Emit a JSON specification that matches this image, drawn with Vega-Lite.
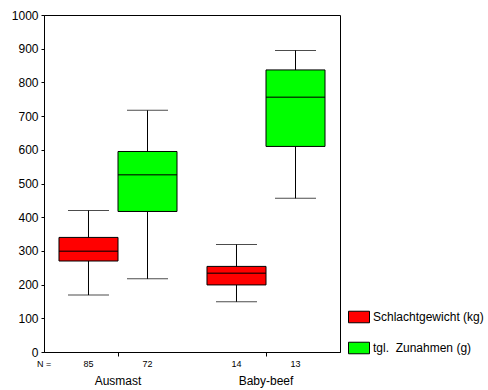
{
  "$schema": "https://vega.github.io/schema/vega-lite/v6.json",
  "autosize": "none",
  "padding": {"left": 44, "top": 15, "right": 148, "bottom": 38},
  "width": 296,
  "height": 337,
  "background": "white",
  "config": {
    "font": "Liberation Sans",
    "view": {"stroke": "black", "strokeWidth": 1},
    "axis": {"domainColor": "black", "tickColor": "black", "labelColor": "black", "grid": false, "labelFont": "Liberation Sans", "labelFontSize": 12}
  },
  "datasets": {
    "boxes": [
      {"group": "Ausmast", "series": "Schlachtgewicht (kg)", "min": 169, "q1": 270, "median": 299, "q3": 340, "max": 420, "n": "85"},
      {"group": "Ausmast", "series": "tgl.\u00a0 Zunahmen (g)", "min": 217, "q1": 417, "median": 526, "q3": 595, "max": 717, "n": "72"},
      {"group": "Baby-beef", "series": "Schlachtgewicht (kg)", "min": 149, "q1": 199, "median": 234, "q3": 254, "max": 319, "n": "14"},
      {"group": "Baby-beef", "series": "tgl.\u00a0 Zunahmen (g)", "min": 456, "q1": 610, "median": 756, "q3": 837, "max": 895, "n": "13"}
    ],
    "nlabel": [{"label": "N =", "pos": 0}]
  },
  "layer": [
    {
      "data": {"name": "boxes"},
      "encoding": {
        "x": {"field": "group", "type": "nominal", "title": null, "sort": null,
              "scale": {"paddingInner": 0, "paddingOuter": 0},
              "axis": {"labelAngle": 0, "tickSize": 4, "labelPadding": 19, "domain": true}},
        "xOffset": {"field": "series", "type": "nominal", "sort": null,
                    "scale": {"paddingInner": 0, "paddingOuter": 0.254}}
      },
      "layer": [
        {
          "mark": {"type": "rule", "color": "black", "strokeWidth": 1},
          "encoding": {
            "y": {"field": "min", "type": "quantitative", "title": null,
                  "scale": {"domain": [0, 1000], "nice": false, "zero": false},
                  "axis": {"values": [0, 100, 200, 300, 400, 500, 600, 700, 800, 900, 1000], "format": "d", "tickSize": 3, "labelPadding": 3, "labelOverlap": false}},
            "y2": {"field": "max"}
          }
        },
        {
          "mark": {"type": "bar", "stroke": "black", "strokeWidth": 1, "opacity": 1},
          "encoding": {
            "y": {"field": "q1", "type": "quantitative", "title": null,
                  "axis": {"values": [0, 100, 200, 300, 400, 500, 600, 700, 800, 900, 1000], "format": "d", "tickSize": 3, "labelPadding": 3, "labelOverlap": false}},
            "y2": {"field": "q3"},
            "fill": {"field": "series", "type": "nominal", "sort": null,
                     "scale": {"domain": ["Schlachtgewicht (kg)", "tgl.\u00a0 Zunahmen (g)"], "range": ["#FF0000", "#00FF00"]},
                     "legend": {"title": null, "orient": "none", "legendX": 304, "legendY": 291,
                                "symbolType": "M-1,-0.55H1V0.55H-1Z", "symbolSize": 441,
                                "symbolStrokeColor": "black", "symbolStrokeWidth": 1, "symbolOpacity": 1,
                                "labelFontSize": 12, "labelColor": "black", "labelFont": "Liberation Sans",
                                "labelOffset": 3, "rowPadding": 12, "labelLimit": 200}}
          }
        },
        {
          "mark": {"type": "tick", "color": "black", "size": 41, "thickness": 1},
          "encoding": {"y": {"field": "min", "type": "quantitative", "title": null,
                  "axis": {"values": [0, 100, 200, 300, 400, 500, 600, 700, 800, 900, 1000], "format": "d", "tickSize": 3, "labelPadding": 3, "labelOverlap": false}}}
        },
        {
          "mark": {"type": "tick", "color": "black", "size": 41, "thickness": 1},
          "encoding": {"y": {"field": "max", "type": "quantitative", "title": null,
                  "axis": {"values": [0, 100, 200, 300, 400, 500, 600, 700, 800, 900, 1000], "format": "d", "tickSize": 3, "labelPadding": 3, "labelOverlap": false}}}
        },
        {
          "mark": {"type": "tick", "color": "black", "size": 59, "thickness": 1.5},
          "encoding": {"y": {"field": "median", "type": "quantitative", "title": null,
                  "axis": {"values": [0, 100, 200, 300, 400, 500, 600, 700, 800, 900, 1000], "format": "d", "tickSize": 3, "labelPadding": 3, "labelOverlap": false}}}
        },
        {
          "mark": {"type": "text", "fontSize": 9, "dy": 12, "baseline": "middle", "color": "black", "clip": false},
          "encoding": {
            "y": {"datum": 0, "type": "quantitative", "title": null,
                  "axis": {"values": [0, 100, 200, 300, 400, 500, 600, 700, 800, 900, 1000], "format": "d", "tickSize": 3, "labelPadding": 3, "labelOverlap": false}},
            "text": {"field": "n"}
          }
        }
      ]
    },
    {
      "data": {"name": "nlabel"},
      "mark": {"type": "text", "fontSize": 9, "dy": 12, "baseline": "middle", "align": "center", "color": "black"},
      "encoding": {
        "x": {"field": "pos", "type": "quantitative", "scale": {"domain": [0, 1]}, "axis": null},
        "y": {"datum": 0, "type": "quantitative", "title": null,
              "axis": {"values": [0, 100, 200, 300, 400, 500, 600, 700, 800, 900, 1000], "format": "d", "tickSize": 3, "labelPadding": 3, "labelOverlap": false}},
        "text": {"field": "label"}
      }
    }
  ],
  "resolve": {"scale": {"x": "independent"}}
}
